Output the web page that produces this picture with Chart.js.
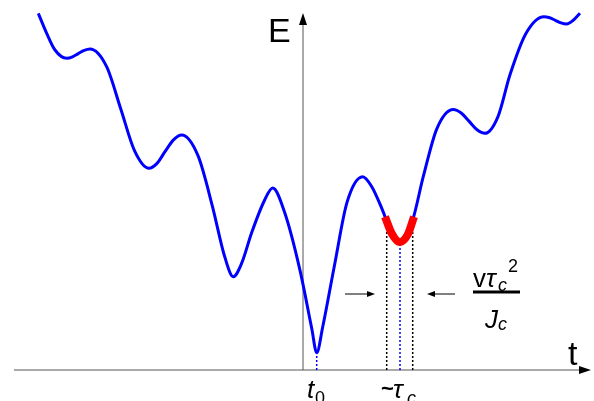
<!DOCTYPE html>
<html>
<head>
<meta charset="utf-8">
<script src="https://cdn.jsdelivr.net/npm/chart.js@4/dist/chart.umd.min.js"></script>
<style>
  html, body { margin: 0; padding: 0; background: #fff; }
  #wrap { width: 594px; height: 401px; }
</style>
</head>
<body>
<div id="wrap"><canvas id="energyChart"></canvas></div>
<script>
// energy landscape E(t): extrema plus quarter points of each rise/fall
const curveT = [-26.47, -25.63, -24.8, -23.63, -23.05, -22.47, -21.88, -21.3, -19.65, -18.23, -16.84, -15.4, -14.6, -13.8, -12.95, -12.13, -10.5, -9.07, -7.85, -6.97, -6.15, -5.12, -3.88, -3.03, -1.85, -0.3, 0.88, 1.37, 1.97, 3.16, 4.4, 5.97, 6.85, 7.92, 8.84, 9.7, 10.89, 12.05, 13.38, 15.03, 15.82, 16.62, 17.41, 18.2, 19.51, 20.69, 22.28, 24.1, 24.67, 25.24, 25.8, 26.37, 27.0, 27.7];
const curveE = [35.67, 33.67, 32.0, 31.17, 31.31, 31.64, 31.96, 32.1, 30.36, 26.13, 21.91, 20.17, 20.66, 21.83, 23.01, 23.5, 21.43, 16.42, 11.4, 9.33, 10.63, 13.77, 16.9, 18.2, 15.8, 9.97, 4.13, 1.73, 4.3, 10.53, 16.76, 19.33, 18.38, 16.07, 13.75, 12.8, 14.73, 19.43, 24.12, 26.05, 25.7, 24.86, 24.02, 23.67, 25.37, 29.5, 33.63, 35.33, 35.22, 34.97, 34.71, 34.6, 34.95, 35.67];

// highlighted well around tau_c
const wellT = [8.2, 8.9, 9.7, 10.5, 11.1];
const wellE = [15.33, 13.6, 12.8, 13.6, 15.33];

// axes and markers
const axisT = [-28.9, 28.8];
const axisTop = 35.7;
const t0 = 1.37, t0E = 1.73;
const tauC = 9.7, tauCE = 12.7;
const widthT = [8.37, 10.97], widthTop = 14.0;
const arrowE = 7.6;
const leftArrowT = [4.2, 7.2];
const rightArrowT = [15.2, 12.4];

function pts(xs, ys) {
    return xs.map((x, i) => ({ x: x, y: ys[i] }));
}

const blue = '#0000ff';

const labelsPlugin = {
    id: 'labels',
    afterDraw(chart) {
        const ctx = chart.ctx;
        const xs = chart.scales.x, ys = chart.scales.y;
        const px = v => xs.getPixelForValue(v);
        const py = v => ys.getPixelForValue(v);

        // arrowheads
        function head(x, y, dx, dy, len, half) {
            ctx.beginPath();
            ctx.moveTo(x, y);
            ctx.lineTo(x - dx * len - dy * half, y - dy * len + dx * half);
            ctx.lineTo(x - dx * len + dy * half, y - dy * len - dx * half);
            ctx.closePath();
            ctx.fill();
        }
        ctx.save();
        ctx.fillStyle = '#000';
        head(px(0), py(axisTop), 0, -1, 12, 4);
        head(px(axisT[1]), py(0), 1, 0, 12, 4);
        head(px(leftArrowT[1]), py(arrowE), 1, 0, 8, 3);
        head(px(rightArrowT[1]), py(arrowE), -1, 0, 8, 3);

        const sans = '"Liberation Sans", Arial, sans-serif';
        ctx.textBaseline = 'alphabetic';
        ctx.textAlign = 'left';

        ctx.font = '34px ' + sans;
        ctx.fillText('E', px(-3.5), py(32.8));
        ctx.fillText('t', px(26.5), py(0.5));

        // t0
        let x = px(0.4), y = py(-2.8);
        ctx.font = 'italic 26px ' + sans;
        ctx.fillText('t', x, y);
        ctx.font = '18px ' + sans;
        ctx.fillText('0', x + 8, y + 6);

        // ~tau_c
        x = px(7.8);
        ctx.font = 'bold 22px ' + sans;
        ctx.fillText('~', x, y - 2);
        ctx.font = 'italic 26px ' + sans;
        ctx.fillText('τ', x + 12, y);
        ctx.font = 'italic 18px ' + sans;
        ctx.fillText('c', x + 26, y + 6);

        // v tau_c^2 / J_c
        x = px(17.0);
        y = py(8.3);
        ctx.font = '26px ' + sans;
        ctx.fillText('v', x, y);
        ctx.font = 'italic 26px ' + sans;
        ctx.fillText('τ', x + 13, y);
        ctx.font = 'italic 18px ' + sans;
        ctx.fillText('c', x + 25, y + 4);
        ctx.font = '18px ' + sans;
        ctx.fillText('2', x + 35, y - 15);
        ctx.fillRect(x, py(7.8) - 1.5, 47, 3);
        ctx.font = 'italic 26px ' + sans;
        ctx.fillText('J', x + 12, py(4.2));
        ctx.font = 'italic 18px ' + sans;
        ctx.fillText('c', x + 25, py(4.0));
        ctx.restore();
    }
};

function line(data, color, width, dash, order) {
    return {
        data: data,
        borderColor: color,
        borderWidth: width,
        borderDash: dash || [],
        pointRadius: 0,
        fill: false,
        order: order
    };
}

new Chart(document.getElementById('energyChart'), {
    type: 'line',
    data: {
        datasets: [
            Object.assign(line(pts(wellT, wellE), '#ff0000', 8, null, 0), { cubicInterpolationMode: 'monotone', borderCapStyle: 'butt' }),
            Object.assign(line(pts(curveT, curveE), blue, 3, null, 1), { cubicInterpolationMode: 'monotone' }),
            line([{ x: axisT[0], y: 0 }, { x: axisT[1] - 1, y: 0 }], '#555', 1, null, 5),
            line([{ x: 0, y: 0 }, { x: 0, y: axisTop - 1 }], '#555', 1, null, 5),
            line([{ x: t0, y: 0 }, { x: t0, y: t0E }], blue, 1.5, [2, 2], 3),
            line([{ x: tauC, y: 0 }, { x: tauC, y: tauCE }], blue, 1.5, [2, 2], 3),
            line([{ x: widthT[0], y: 0 }, { x: widthT[0], y: widthTop }], '#000', 1.5, [2, 2], 3),
            line([{ x: widthT[1], y: 0 }, { x: widthT[1], y: widthTop }], '#000', 1.5, [2, 2], 3),
            line([{ x: leftArrowT[0], y: arrowE }, { x: leftArrowT[1] - 0.6, y: arrowE }], '#000', 1, null, 4),
            line([{ x: rightArrowT[0], y: arrowE }, { x: rightArrowT[1] + 0.6, y: arrowE }], '#000', 1, null, 4)
        ]
    },
    options: {
        responsive: true,
        maintainAspectRatio: false,
        animation: false,
        layout: { padding: 0 },
        plugins: { legend: { display: false }, tooltip: { enabled: false } },
        scales: {
            x: { type: 'linear', min: -30.3, max: 29.1, display: false },
            y: { type: 'linear', min: -3.1, max: 37.0, display: false }
        }
    },
    plugins: [labelsPlugin]
});
</script>
</body>
</html>
